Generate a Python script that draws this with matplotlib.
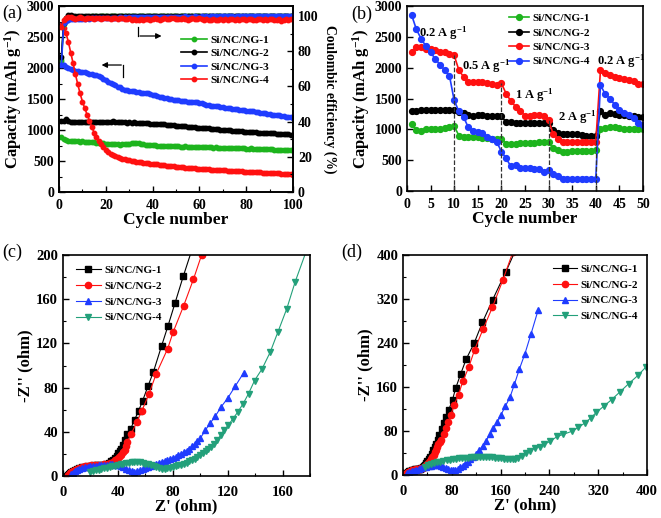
import matplotlib
matplotlib.use("Agg")
import matplotlib.pyplot as plt
import numpy as np
from matplotlib.ticker import MultipleLocator

plt.rcParams['font.family'] = ['Liberation Serif', 'DejaVu Serif']
plt.rcParams['font.weight'] = 'bold'
plt.rcParams['axes.labelweight'] = 'bold'
plt.rcParams['mathtext.fontset'] = 'custom'
plt.rcParams['mathtext.rm'] = 'Liberation Serif:bold'
plt.rcParams['mathtext.bf'] = 'Liberation Serif:bold'
plt.rcParams['mathtext.it'] = 'Liberation Serif:bold:italic'
plt.rcParams['mathtext.default'] = 'bf'

# ---------------- panel (a): cycling at fixed rate ----------------
cycles_a = np.arange(1, 101)
cap_ng1 = [880, 850, 840, 830, 830, 825, 820, 820, 815, 820,
           815, 810, 805, 800, 800, 795, 790, 785, 785, 780,
           780, 775, 770, 775, 770, 765, 770, 770, 775, 780,
           785, 790, 795, 785, 775, 770, 765, 760, 760, 755,
           755, 750, 750, 745, 745, 740, 740, 740, 735, 735,
           735, 730, 730, 735, 730, 730, 725, 725, 730, 725,
           725, 720, 720, 725, 720, 715, 720, 715, 715, 710,
           715, 710, 710, 705, 710, 705, 705, 710, 705, 700,
           700, 705, 700, 700, 695, 700, 695, 690, 695, 690,
           690, 685, 685, 680, 685, 680, 675, 680, 675, 670]
cap_ng2 = [1150, 1140, 1170, 1150, 1135, 1130, 1135, 1130, 1130, 1135,
           1130, 1135, 1130, 1125, 1130, 1130, 1135, 1130, 1130, 1125,
           1130, 1135, 1140, 1130, 1125, 1130, 1130, 1125, 1120, 1125,
           1120, 1125, 1120, 1115, 1120, 1115, 1110, 1110, 1105, 1105,
           1100, 1100, 1095, 1090, 1090, 1085, 1080, 1080, 1075, 1070,
           1070, 1065, 1060, 1060, 1055, 1050, 1050, 1045, 1040, 1040,
           1035, 1030, 1025, 1025, 1020, 1015, 1010, 1010, 1005, 1000,
           1000, 995, 995, 990, 990, 985, 980, 980, 975, 975,
           970, 970, 965, 965, 960, 960, 955, 955, 950, 950,
           945, 945, 940, 940, 935, 935, 930, 930, 925, 925]
cap_ng3 = [2100, 2050, 2020, 2000, 1990, 1975, 1960, 1950, 1940, 1935,
           1930, 1920, 1910, 1900, 1890, 1880, 1870, 1850, 1830, 1800,
           1780, 1760, 1740, 1720, 1700, 1690, 1670, 1650, 1640, 1635,
           1630, 1625, 1620, 1615, 1605, 1600, 1595, 1590, 1580, 1570,
           1560, 1550, 1540, 1530, 1520, 1510, 1500, 1495, 1490, 1485,
           1480, 1475, 1470, 1465, 1460, 1455, 1450, 1450, 1445, 1440,
           1430, 1420, 1410, 1400, 1395, 1390, 1385, 1380, 1370, 1365,
           1360, 1355, 1350, 1345, 1340, 1335, 1330, 1325, 1320, 1315,
           1310, 1305, 1300, 1295, 1290, 1280, 1275, 1270, 1260, 1255,
           1250, 1245, 1240, 1235, 1230, 1225, 1215, 1210, 1205, 1195]
cap_ng4 = [2700, 2640, 2560, 2420, 2250, 2080, 1900, 1740, 1590, 1460,
           1350, 1250, 1150, 1050, 960, 880, 820, 770, 720, 680,
           650, 620, 600, 580, 565, 550, 540, 530, 520, 510,
           500, 495, 490, 485, 480, 475, 470, 465, 460, 455,
           450, 445, 440, 435, 430, 425, 420, 415, 412, 408,
           405, 400, 397, 394, 390, 387, 384, 380, 378, 375,
           372, 370, 367, 364, 362, 360, 357, 355, 352, 350,
           348, 346, 344, 342, 340, 337, 335, 333, 331, 329,
           327, 325, 322, 320, 318, 316, 314, 312, 310, 308,
           306, 304, 302, 300, 298, 296, 294, 292, 290, 282]

ce_ng1 = [75.0, 95.5, 97.8, 98.6, 99.0, 99.2, 99.3, 99.4, 99.5, 99.5,
          99.6, 99.5, 99.6, 99.7, 99.6, 99.7, 99.6, 99.7, 99.8, 99.7,
          99.6, 99.7, 99.8, 99.7, 99.6, 99.7, 99.7, 99.8, 99.6, 99.7,
          99.8, 99.7, 99.6, 99.7, 99.8, 99.7, 99.6, 99.7, 99.7, 99.8,
          99.7, 99.6, 99.7, 99.8, 99.7, 99.7, 99.6, 99.7, 99.8, 99.7,
          99.6, 99.7, 99.7, 99.8, 99.7, 99.6, 99.7, 99.8, 99.7, 99.7,
          99.6, 99.7, 99.8, 99.7, 99.6, 99.7, 99.7, 99.8, 99.7, 99.6,
          99.7, 99.8, 99.7, 99.7, 99.6, 99.7, 99.8, 99.7, 99.6, 99.7,
          99.7, 99.8, 99.7, 99.6, 99.7, 99.8, 99.7, 99.7, 99.6, 99.7,
          99.8, 99.7, 99.6, 99.7, 99.7, 99.8, 99.7, 99.6, 99.7, 99.8]
ce_ng2 = [76.5, 96.0, 99.0, 100.6, 100.4, 100.2, 100.1, 100.0, 99.9, 99.9,
          99.8, 99.9, 100.0, 99.9, 99.8, 99.9, 100.0, 99.9, 99.8, 99.9,
          99.9, 100.0, 99.9, 99.8, 99.9, 100.0, 99.9, 99.9, 99.8, 99.9,
          100.0, 99.9, 99.8, 99.9, 99.9, 100.0, 99.9, 99.8, 99.9, 100.0,
          99.9, 99.9, 99.8, 99.9, 100.0, 99.9, 99.8, 99.9, 99.9, 100.0,
          99.9, 99.8, 99.9, 100.0, 99.9, 99.9, 99.8, 99.9, 100.0, 99.9,
          99.8, 99.9, 99.9, 100.0, 99.9, 99.8, 99.9, 100.0, 99.9, 99.9,
          99.8, 99.9, 100.0, 99.9, 99.8, 99.9, 99.9, 100.0, 99.9, 99.8,
          99.9, 100.0, 99.9, 99.9, 99.8, 99.9, 100.0, 99.9, 99.8, 99.9,
          99.9, 100.0, 99.9, 99.8, 99.9, 100.0, 99.9, 99.9, 99.8, 99.9]
ce_ng3 = [72.0, 96.0, 97.4, 97.8, 98.0, 98.2, 98.3, 98.4, 98.3, 98.5,
          98.4, 98.6, 98.5, 98.7, 98.6, 98.8, 98.7, 98.9, 98.8, 99.0,
          98.9, 99.0, 99.1, 99.0, 99.1, 99.2, 99.1, 99.2, 99.1, 99.3,
          99.2, 99.3, 99.2, 99.3, 99.4, 99.3, 99.4, 99.3, 99.4, 99.5,
          99.4, 99.5, 99.4, 99.5, 99.6, 99.5, 99.4, 99.5, 99.6, 99.5,
          99.6, 99.5, 99.6, 99.7, 99.6, 99.5, 99.6, 99.7, 99.6, 99.6,
          99.7, 99.6, 99.7, 99.6, 99.7, 99.8, 99.7, 99.6, 99.7, 99.8,
          99.7, 99.7, 99.8, 99.7, 99.6, 99.7, 99.8, 99.7, 99.7, 99.8,
          99.7, 99.8, 99.7, 99.7, 99.8, 99.7, 99.8, 99.7, 99.8, 99.7,
          99.8, 99.7, 99.8, 99.8, 99.7, 99.8, 99.7, 99.8, 99.8, 99.7]
ce_ng4 = [93.5, 97.5, 98.8, 99.5, 99.2, 98.8, 98.5, 98.9, 99.2, 98.7,
          98.4, 98.9, 99.1, 98.6, 98.2, 98.8, 99.0, 98.5, 98.9, 99.1,
          98.6, 98.3, 98.8, 99.0, 98.4, 98.7, 99.1, 98.5, 98.0, 98.6,
          97.9, 98.3, 97.6, 97.9, 98.4, 97.7, 98.2, 98.5, 97.8, 98.3,
          98.6, 98.1, 97.8, 98.4, 98.7, 98.2, 98.0, 98.6, 98.9, 98.3,
          98.0, 98.5, 98.8, 98.2, 97.9, 98.4, 98.7, 98.1, 98.5, 98.8,
          98.3, 97.8, 98.2, 97.5, 97.9, 98.3, 97.6, 97.9, 98.4, 97.7,
          98.1, 97.6, 98.0, 98.4, 97.8, 98.2, 97.6, 98.0, 98.3, 97.7,
          98.1, 98.5, 97.9, 97.5, 98.0, 98.3, 97.7, 98.1, 97.6, 98.0,
          98.4, 97.8, 97.5, 98.0, 97.4, 97.8, 98.2, 97.6, 98.0, 98.3]

# ---------------- panel (b): rate capability ----------------
cycles_b = np.arange(1, 51)
rate_ng1 = [1080, 990, 980, 1000, 1010, 1010, 1010, 1020, 1040, 1050,
            900, 880, 870, 870, 870, 860, 860, 850, 850, 850,
            770, 760, 770, 780, 780, 780, 780, 790, 790, 790,
            690, 660, 640, 640, 645, 645, 650, 650, 655, 660,
            1000, 1020, 1030, 1030, 1020, 1010, 1010, 1010, 1000, 1010]
rate_ng2 = [1300, 1300, 1310, 1320, 1320, 1320, 1310, 1310, 1320, 1310,
            1280, 1260, 1230, 1220, 1230, 1230, 1220, 1210, 1210, 1210,
            1120, 1120, 1110, 1100, 1100, 1100, 1110, 1110, 1110, 1100,
            990, 940, 930, 920, 920, 920, 910, 900, 890, 890,
            1290, 1230, 1260, 1250, 1240, 1230, 1210, 1210, 1200, 1200]
rate_ng3 = [2250, 2340, 2330, 2310, 2300, 2280, 2260, 2250, 2230, 2200,
            1960, 1850, 1770, 1760, 1760, 1770, 1750, 1730, 1720, 1750,
            1580, 1460, 1370, 1300, 1220, 1220, 1240, 1240, 1220, 1150,
            920, 840, 800, 790, 790, 790, 790, 790, 790, 790,
            1960, 1910, 1880, 1850, 1830, 1810, 1800, 1780, 1730, 1740]
rate_ng4 = [2850, 2620, 2470, 2350, 2250, 2140, 2050, 1960, 1870, 1470,
            1290, 1200, 1030, 980, 950, 940, 880, 850, 800, 640,
            530, 400, 420, 380, 370, 370, 360, 350, 310, 340,
            270, 240, 200, 200, 200, 200, 200, 200, 200, 200,
            1720, 1570, 1500, 1400, 1320, 1270, 1230, 1180, 1100, 1070]
rate_labels = ['0.2 A g$^{-1}$', '0.5 A g$^{-1}$', '1 A g$^{-1}$',
               '2 A g$^{-1}$', '0.2 A g$^{-1}$']
rate_label_x = [2.6, 11.6, 22.8, 32.0, 40.2]
rate_label_y = [2560, 2030, 1550, 1190, 2100]
switch_cycles = [10, 20, 30, 40]
switch_tops = [2200, 1750, 1150, 900]

# ---------------- panel (c): EIS before cycling ----------------
c1_re = [3.0, 3.5, 4.2, 5.0, 6.0, 7.2, 8.5, 10.0, 11.8, 13.7, 15.8, 18.0, 20.3, 22.7,
         25.0, 27.3, 29.5, 31.5, 33.3, 35.0, 36.5, 37.8, 39.0, 40.2, 41.4, 42.6, 43.8,
         44.9, 46.8, 49.3, 52.2, 55.1, 58.0, 61.9, 65.8, 71.8, 76.5, 81.6, 87.6, 94.0]
c1_im = [0.0, 1.0, 2.0, 3.0, 4.0, 4.9, 5.8, 6.6, 7.3, 7.9, 8.4, 8.8, 9.2, 9.5,
         9.7, 9.9, 10.2, 10.8, 11.8, 13.2, 14.8, 16.5, 18.4, 20.4, 22.5, 24.8, 28.5,
         32.7, 37.9, 42.7, 51.0, 59.0, 68.0, 81.2, 93.9, 117.6, 135.8, 156.4, 180.6, 205.0]
c2_re = [3.5, 4.0, 4.8, 5.8, 7.0, 8.4, 10.0, 11.8, 13.8, 16.0, 18.3, 20.7, 23.1, 25.5,
         27.9, 30.2, 32.4, 34.4, 36.2, 37.9, 39.5, 41.0, 42.4, 43.7, 45.0, 45.9, 46.8,
         49.8, 53.6, 57.5, 62.6, 68.0, 76.2, 80.3, 87.9, 95.1, 101.0]
c2_im = [0.0, 1.2, 2.4, 3.5, 4.6, 5.6, 6.5, 7.3, 8.0, 8.6, 9.1, 9.5, 9.8, 10.0,
         10.2, 10.5, 11.0, 11.8, 12.9, 14.2, 15.7, 17.4, 19.3, 21.3, 23.5, 27.0, 31.2,
         38.2, 48.5, 59.0, 74.2, 92.7, 115.0, 130.3, 154.0, 178.2, 200.0]
c3_re = [6, 7, 8.5, 10, 12, 14, 16, 18, 20, 22, 24, 26, 28, 30, 32, 34, 36, 38, 40, 42,
         44, 46, 48, 50, 52, 54, 56, 58, 60, 62, 64, 66, 68, 70, 72, 74, 76, 78, 80, 82,
         84, 86, 88, 90, 92, 94, 96, 98, 100, 103.6, 107.3, 110.9, 115, 120.1, 125.5, 131.6]
c3_im = [1.5, 3, 4.5, 5.5, 6.5, 7.2, 7.8, 8.3, 8.7, 9.0, 9.3, 9.6, 9.9, 10.1, 10.3,
         10.4, 10.4, 10.2, 9.8, 9.1, 8.0, 6.6, 5.3, 4.4, 4.0, 4.2, 5.0, 6.0, 7.0, 8.0,
         9.0, 10.0, 10.9, 11.8, 12.7, 13.6, 14.5, 15.4, 16.4, 17.4, 18.6, 19.9, 21.4,
         23.0, 24.8, 26.8, 29.0, 31.4, 34.0, 41.2, 47.9, 53.9, 62.1, 70.6, 81.2, 93.3]
c4_re = [20, 22, 24, 26, 28, 30, 32, 34, 36, 38, 40, 42, 44, 46, 48, 50, 52, 54, 56, 58,
         60, 62, 64, 66, 68, 70, 72, 74, 76, 78, 80, 82, 84, 86, 88, 90, 92, 94, 96, 98,
         100, 102, 104, 106, 108, 110, 112.5, 115, 117, 120.4, 123.8, 127.2, 131.3,
         135.2, 139.6, 145.1, 151, 156.6, 163.1, 169.2, 177.7]
c4_im = [4, 4.6, 5.2, 5.8, 6.4, 7.0, 7.6, 8.2, 8.8, 9.4, 10.0, 10.6, 11.1, 11.6, 12.0,
         12.3, 12.5, 12.5, 12.3, 11.9, 11.3, 10.5, 9.6, 8.6, 7.7, 7.0, 6.6, 6.6, 7.0,
         7.5, 8.1, 8.8, 9.5, 10.3, 11.2, 12.2, 13.3, 14.5, 15.8, 17.2, 18.8, 20.5, 22.4,
         24.4, 26.6, 29.0, 33.0, 37.0, 41.2, 45.8, 51.8, 57.6, 65.5, 74.5, 86.4, 97.0,
         112.1, 130.3, 151.5, 175.8, 205.0]

# ---------------- panel (d): EIS after cycling ----------------
d1_re = [3, 4, 6, 8, 10, 12, 14, 16, 18, 20, 22, 24, 26, 28, 30, 32, 34, 36, 38, 40, 42,
         44.7, 47, 49.5, 52, 54.5, 57, 59.4, 63.8, 66.5, 70.3, 75.2, 81.2, 86.6, 94.3,
         103.5, 116.6, 130.2, 147.1, 168.4, 185]
d1_im = [0, 2, 4, 5.5, 7, 8, 8.8, 9.5, 10, 10.3, 10.5, 10.6, 10.8, 11.5, 12.8, 14.5,
         16.5, 19, 22, 25, 29, 33.5, 39, 45, 51, 57, 64, 73.2, 83.5, 94.5, 104.9, 118.9,
         137.2, 158.5, 182.9, 210.4, 239.6, 277.4, 318.9, 368.9, 410]
d2_re = [3, 4, 6, 8, 10, 12, 14, 16, 18, 20, 22, 24, 26, 28, 30, 32, 34, 36, 38, 40, 42,
         44, 46, 48, 50, 52, 54, 56, 58, 60, 62.7, 66.5, 69.8, 73.6, 78.5, 83.9, 91, 98.1,
         107.9, 117.5, 131.3, 146.6, 163.5, 180]
d2_im = [0, 1.8, 3.6, 5, 6.3, 7.4, 8.3, 9, 9.6, 10, 10.3, 10.5, 10.8, 11.3, 12, 13,
         14.3, 16, 18, 20.3, 23, 26, 29.3, 33, 37, 41.3, 45.8, 50.5, 55.5, 59.8, 64, 75,
         85.4, 95.7, 109.8, 127.4, 146.3, 170.1, 196.3, 228, 265.2, 304.9, 353.7, 405]
d3_re = [6.5, 10, 14, 18, 22, 26, 30, 34, 38, 42, 46, 50, 54, 58, 62, 66, 70, 74, 78,
         82, 86, 90, 94, 98, 102, 106, 110, 115.5, 120, 125, 130.8, 136.2, 142.8, 148.2,
         154.8, 160.8, 167.8, 175.5, 182.6, 190.7, 200, 209.8, 221.8]
d3_im = [3, 5, 6.5, 8, 9.5, 11, 12.5, 14, 15.2, 16.2, 17, 17.6, 17.8, 17.5, 16.5, 14.8,
         12.5, 10.5, 9.2, 9, 9.8, 11.5, 14, 17, 20.5, 24.5, 28.5, 33.5, 38.5, 45, 53,
         62.2, 75, 84.8, 96.3, 109.8, 125, 141.5, 164.6, 192.1, 220.7, 256.1, 300.6]
d4_re = [36.5, 41, 46, 51, 56, 61, 66, 71.9, 77, 82, 87, 92, 97, 102, 107, 112, 117,
         121.5, 126.4, 131, 136, 141, 146, 151, 156, 161, 166, 171, 176, 180, 183.7, 188,
         194.6, 201, 208.2, 216, 224.5, 232, 240.9, 252.9, 262.7, 277.9, 287.7, 298.1,
         307.9, 317.2, 329.2, 342.2, 355.3, 370, 385.3, 398.9]
d4_im = [15.2, 17.5, 19.5, 21.2, 22.8, 24.2, 25.5, 26.7, 27.7, 28.6, 29.4, 30.1, 30.7,
         31.2, 31.6, 32, 32.3, 32.5, 32.6, 32.6, 32.5, 32.3, 32, 31.6, 31.1, 30.6, 30,
         29.5, 29.1, 28.9, 29.3, 31, 34.5, 39.5, 44.5, 48.5, 51.8, 56, 61, 70.1, 73.8,
         79.9, 86.6, 94.5, 103.7, 114, 125, 137.2, 150.6, 165.9, 181.1, 197]

labels = ['Si/NC/NG-1', 'Si/NC/NG-2', 'Si/NC/NG-3', 'Si/NC/NG-4']

GREEN = '#1db41d'
BLACK = '#000000'
BLUE = '#1f3cff'
RED = '#ff1010'
TEAL = '#23a07a'


def style_axis(ax, fs=10, xpad=5.0):
    ax.tick_params(direction='in', length=4, width=1, labelsize=fs, which='major')
    ax.tick_params(direction='in', length=2.2, width=0.8, which='minor')
    ax.tick_params(axis='x', which='major', pad=xpad)
    for lab in ax.get_xticklabels() + ax.get_yticklabels():
        lab.set_fontweight('bold')
    for s in ax.spines.values():
        s.set_linewidth(1.2)


fig = plt.figure(figsize=(6.61, 5.18), dpi=100)

# ---- (a)
ax_a = fig.add_axes([0.0893, 0.6293, 0.354, 0.359])
ax_a2 = ax_a.twinx()
for cap, ce, col in [(cap_ng1, ce_ng1, GREEN), (cap_ng2, ce_ng2, BLACK),
                     (cap_ng3, ce_ng3, BLUE), (cap_ng4, ce_ng4, RED)]:
    ax_a.plot(cycles_a, cap, '-o', color=col, ms=3.2, lw=1.2)
    ax_a2.plot(cycles_a, ce, '-o', color=col, ms=3.2, lw=1.2)
ax_a.set_xlim(0, 100)
ax_a.set_ylim(0, 3000)
ax_a2.set_ylim(0, 105.6)
ax_a.xaxis.set_major_locator(MultipleLocator(20))
ax_a.xaxis.set_minor_locator(MultipleLocator(10))
ax_a.yaxis.set_major_locator(MultipleLocator(500))
ax_a.yaxis.set_minor_locator(MultipleLocator(250))
ax_a2.yaxis.set_major_locator(MultipleLocator(20))
ax_a2.yaxis.set_minor_locator(MultipleLocator(10))
style_axis(ax_a)
style_axis(ax_a2)
ax_a.set_xlabel('Cycle number', fontsize=12.5, labelpad=0)
ax_a.set_ylabel('Capacity (mAh g$^{-1}$)', fontsize=12, labelpad=2)
ax_a2.set_ylabel('Coulombic efficiency (%)', fontsize=9.8, rotation=270, labelpad=13)
handles = [plt.Line2D([], [], color=c, marker='o', ms=3.2, lw=1.2)
           for c in [GREEN, BLACK, BLUE, RED]]
ax_a.legend(handles, labels, loc='upper left', bbox_to_anchor=(0.5, 0.87),
            frameon=False, fontsize=8.2, handlelength=2.3, handletextpad=0.3,
            labelspacing=0.3, borderaxespad=0)
# arrows pointing to the two axes
ax_a.plot([0.338, 0.338], [0.887, 0.839], color='k', lw=0.9, transform=ax_a.transAxes)
ax_a.annotate('', xy=(0.45, 0.839), xytext=(0.334, 0.839), xycoords='axes fraction',
              arrowprops=dict(arrowstyle='-|>', color='k', lw=0.9, mutation_scale=8))
ax_a.plot([0.274, 0.274], [0.618, 0.683], color='k', lw=0.9, transform=ax_a.transAxes)
ax_a.annotate('', xy=(0.17, 0.683), xytext=(0.278, 0.683), xycoords='axes fraction',
              arrowprops=dict(arrowstyle='-|>', color='k', lw=0.9, mutation_scale=8))
fig.text(0.003, 0.975, '(a)', fontsize=13, fontweight='normal', va='center')

# ---- (b)
ax_b = fig.add_axes([0.6157, 0.6313, 0.357, 0.357])
for vals, col, lab in [(rate_ng1, GREEN, labels[0]), (rate_ng2, BLACK, labels[1]),
                       (rate_ng3, RED, labels[2]), (rate_ng4, BLUE, labels[3])]:
    ax_b.plot(cycles_b, vals, '-o', color=col, ms=4.2, lw=1.2, label=lab)
for xc, top in zip(switch_cycles, switch_tops):
    ax_b.plot([xc, xc], [0, top], '--', color='#333333', lw=0.9)
for t, x, y in zip(rate_labels, rate_label_x, rate_label_y):
    ax_b.text(x, y, t, fontsize=9, va='center', ha='left')
ax_b.set_xlim(0, 50)
ax_b.set_ylim(0, 3000)
ax_b.xaxis.set_major_locator(MultipleLocator(5))
ax_b.yaxis.set_major_locator(MultipleLocator(500))
style_axis(ax_b)
ax_b.set_xlabel('Cycle number', fontsize=12.5, labelpad=0)
ax_b.set_ylabel('Capacity (mAh g$^{-1}$)', fontsize=12, labelpad=2)
ax_b.legend(loc='upper left', bbox_to_anchor=(0.415, 0.985), frameon=False,
            fontsize=8, handlelength=1.8, handletextpad=0.3, labelspacing=0.42,
            borderaxespad=0)
fig.text(0.532, 0.972, '(b)', fontsize=13, fontweight='normal', va='center')

# ---- (c)
ax_c = fig.add_axes([0.0953, 0.0811, 0.3737, 0.4266])
ax_c.plot(c1_re, c1_im, '-s', color=BLACK, ms=4.2, lw=0.8, label=labels[0])
ax_c.plot(c2_re, c2_im, '-o', color=RED, ms=4.5, lw=0.8, label=labels[1])
ax_c.plot(c3_re, c3_im, '-^', color=BLUE, ms=4.5, lw=0.8, label=labels[2])
ax_c.plot(c4_re, c4_im, '-v', color=TEAL, ms=4.5, lw=0.8, label=labels[3])
ax_c.set_xlim(0, 180)
ax_c.set_ylim(0, 200)
ax_c.xaxis.set_major_locator(MultipleLocator(40))
ax_c.xaxis.set_minor_locator(MultipleLocator(20))
ax_c.yaxis.set_major_locator(MultipleLocator(40))
ax_c.yaxis.set_minor_locator(MultipleLocator(20))
style_axis(ax_c, fs=10.5, xpad=7)
ax_c.set_xlabel("Z' (ohm)", fontsize=12, labelpad=0)
ax_c.set_ylabel("-Z'' (ohm)", fontsize=12, labelpad=2)
ax_c.legend(loc='upper left', frameon=False, fontsize=8, handlelength=2.3,
            handletextpad=0.3, labelspacing=0.55, borderaxespad=0.3,
            bbox_to_anchor=(0.02, 0.99))
fig.text(0.003, 0.512, '(c)', fontsize=13, fontweight='normal', va='center')

# ---- (d)
ax_d = fig.add_axes([0.6097, 0.083, 0.369, 0.4247])
ax_d.plot(d1_re, d1_im, '-s', color=BLACK, ms=4.2, lw=0.8, label=labels[0])
ax_d.plot(d2_re, d2_im, '-o', color=RED, ms=4.5, lw=0.8, label=labels[1])
ax_d.plot(d3_re, d3_im, '-^', color=BLUE, ms=4.5, lw=0.8, label=labels[2])
ax_d.plot(d4_re, d4_im, '-v', color=TEAL, ms=4.5, lw=0.8, label=labels[3])
ax_d.set_xlim(0, 400)
ax_d.set_ylim(0, 400)
ax_d.xaxis.set_major_locator(MultipleLocator(80))
ax_d.xaxis.set_minor_locator(MultipleLocator(40))
ax_d.yaxis.set_major_locator(MultipleLocator(80))
ax_d.yaxis.set_minor_locator(MultipleLocator(40))
style_axis(ax_d, fs=10.5, xpad=7)
ax_d.set_xlabel("Z' (ohm)", fontsize=12, labelpad=0)
ax_d.set_ylabel("-Z'' (ohm)", fontsize=12, labelpad=2)
ax_d.legend(loc='upper right', frameon=False, fontsize=8, handlelength=2.2,
            handletextpad=0.3, labelspacing=0.55, borderaxespad=0.4)
fig.text(0.517, 0.512, '(d)', fontsize=13, fontweight='normal', va='center')

fig.savefig('out.png', dpi=100)
